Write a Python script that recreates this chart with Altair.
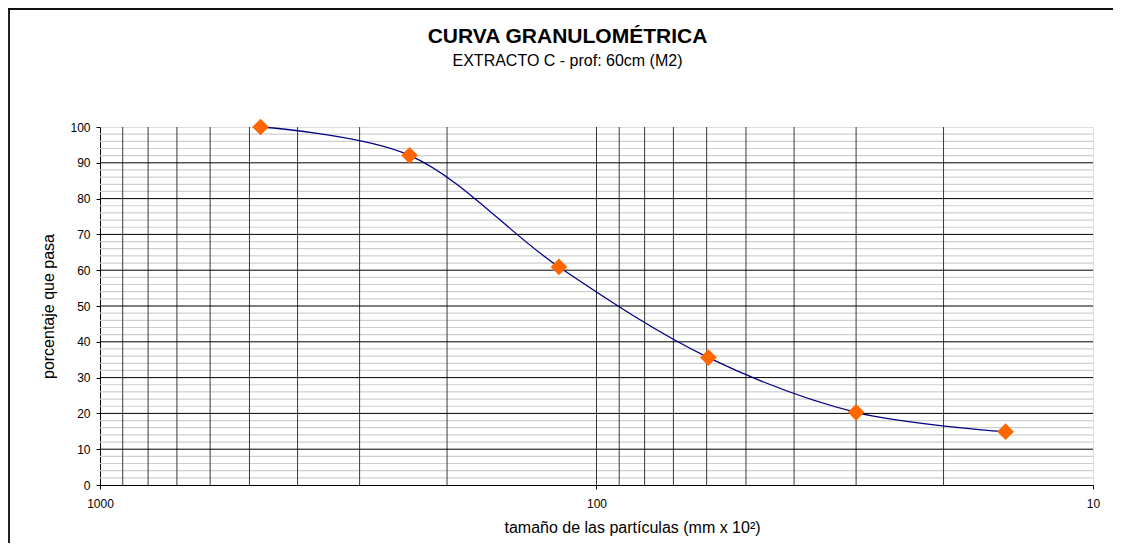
import altair as alt
import pandas as pd

# ---- data ----
tamano = [475, 238, 119, 59.5, 30, 15]          # mm x 10^2
porcentaje = [100, 92.1, 60.9, 35.6, 20.3, 14.9]  # % que pasa

x_major_labels = [1000, 100, 10]
x_grid = [900, 800, 700, 600, 500, 400, 300, 200, 100, 90, 80, 70, 60, 50, 40, 30, 20]
y_major = [10, 20, 30, 40, 50, 60, 70, 80, 90]
y_ticks = [0, 10, 20, 30, 40, 50, 60, 70, 80, 90, 100]
y_minor = [v for v in range(2, 100, 2) if v % 10 != 0]

FONT = "Liberation Sans"
W, H = 993, 358

df = pd.DataFrame({"tamano": tamano, "porcentaje": porcentaje, "orden": list(range(len(tamano)))})
xgrid_df = pd.DataFrame({"v": x_grid})
ymaj_df = pd.DataFrame({"v": y_major})
ymin_df = pd.DataFrame({"v": y_minor})
one = pd.DataFrame({"a": [0]})

xscale = alt.Scale(type="log", domain=[10, 1000], reverse=True, nice=False)
yscale = alt.Scale(domain=[0, 100], nice=False)

x_axis = alt.Axis(
    values=x_major_labels, grid=False, labelFontSize=12, labelFont=FONT, labelColor="black",
    tickSize=4, tickColor="black", domainColor="black", labelPadding=9,
    labelFlush=False, labelOverlap=False,
    title="tamaño de las partículas  (mm x 10²)", titleFont=FONT, titleFontSize=16,
    titleFontWeight="normal", titleColor="black", titlePadding=10, titleX=532,
    format="d",
)
y_axis = alt.Axis(
    values=y_ticks, grid=False, labelFontSize=12, labelFont=FONT, labelColor="black",
    tickSize=4, tickColor="black", domainColor="black", labelPadding=6,
    labelOverlap=False, labelFlush=False, labelBound=False,
    title="porcentaje que pasa", titleFont=FONT, titleFontSize=16,
    titleFontWeight="normal", titleColor="black", titlePadding=13,
)

minor_h = alt.Chart(ymin_df).mark_rule(color="#cfcfcf", strokeWidth=1.2).encode(
    y=alt.Y("v:Q", scale=yscale, axis=y_axis)
)
vert = alt.Chart(xgrid_df).mark_rule(color="#3a3a3a", strokeWidth=1).encode(
    x=alt.X("v:Q", scale=xscale, axis=x_axis)
)
major_h = alt.Chart(ymaj_df).mark_rule(color="black", strokeWidth=1).encode(
    y=alt.Y("v:Q", scale=yscale, axis=y_axis)
)

line = alt.Chart(df).mark_line(color="#000080", strokeWidth=1.3, interpolate="catmull-rom").encode(
    x=alt.X("tamano:Q", scale=xscale, axis=x_axis),
    y=alt.Y("porcentaje:Q", scale=yscale, axis=y_axis),
    order="orden:Q",
)
points = alt.Chart(df).mark_point(shape="diamond", filled=True, color="#FF6600", opacity=1, size=280).encode(
    x=alt.X("tamano:Q", scale=xscale, axis=x_axis),
    y=alt.Y("porcentaje:Q", scale=yscale, axis=y_axis),
)

border_left = alt.Chart(one).mark_rule(color="#222222", strokeWidth=2).encode(
    x=alt.value(-91), y=alt.value(-119), y2=alt.value(420)
)
border_top = alt.Chart(one).mark_rule(color="#111111", strokeWidth=2).encode(
    x=alt.value(-92), x2=alt.value(1017), y=alt.value(-118)
)

chart = alt.layer(minor_h, vert, major_h, line, points, border_left, border_top).properties(
    width=W, height=H,
    title=alt.TitleParams(
        text="CURVA GRANULOMÉTRICA",
        subtitle="EXTRACTO C - prof: 60cm (M2)",
        font=FONT, fontSize=21, fontWeight="bold", color="black",
        subtitleFont=FONT, subtitleFontSize=16, subtitleColor="black",
        subtitlePadding=6, anchor="middle", dx=-29, offset=-62,
    ),
    autosize=alt.AutoSizeParams(type="none"),
    padding={"left": 92, "top": 119, "right": 20, "bottom": 58},
).configure_view(stroke="#808080", strokeWidth=1).configure_axis(
    labelOverlap=False
).configure(background="white")

chart.save("out.html", embed_options={"renderer": "svg", "actions": False})
